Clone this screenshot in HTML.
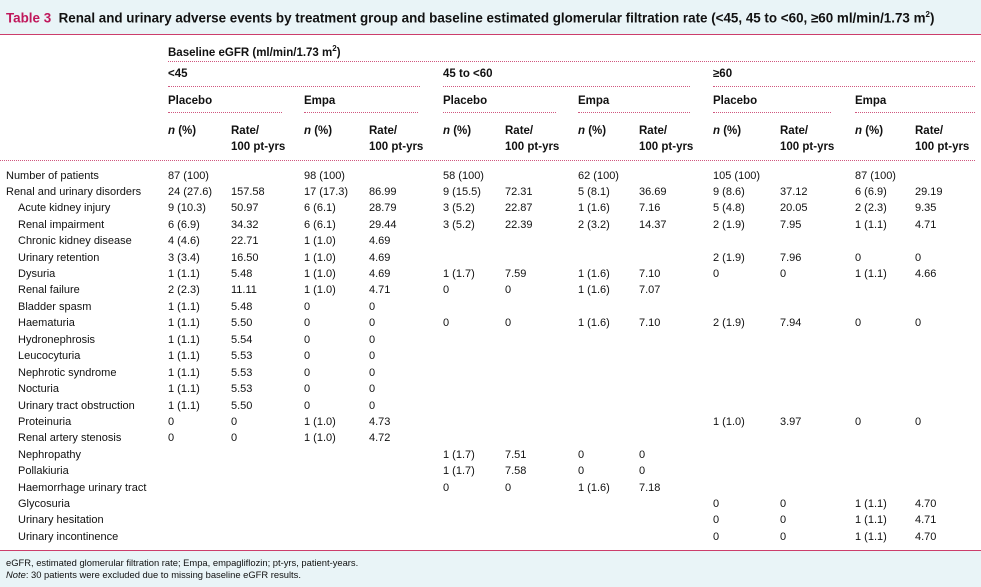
<!DOCTYPE html><html><head><meta charset="utf-8"><style>
body{margin:0;width:981px;height:586px;background:#fff;font-family:"Liberation Sans",sans-serif;font-size:11px;color:#111;position:relative;overflow:hidden}
.a{position:absolute;white-space:nowrap;line-height:14px}
.b{font-weight:bold}
.h{font-size:11.5px}
.d{position:absolute;height:0;border-top:1.3px dotted #d0577f}
.r{position:absolute;left:0;width:981px;height:14px}
.r span{position:absolute;top:0;line-height:14px;white-space:nowrap}
</style></head><body>
<div style="position:absolute;left:0;top:0;width:981px;height:34px;background:#e9f4f7;border-bottom:1.5px solid #cc3d6b"></div>
<div class="a b" style="left:6px;top:8px;font-size:13.4px"><span style="color:#c0175b">Table 3</span>&nbsp; Renal and urinary adverse events by treatment group and baseline estimated glomerular filtration rate (&lt;45, 45 to &lt;60, ≥60 ml/min/1.73 m<sup style="font-size:8px">2</sup>)</div>
<div class="a b h" style="left:168px;top:42px">Baseline eGFR (ml/min/1.73 m<sup style="font-size:8px">2</sup>)</div>
<div class="d" style="left:168px;width:807px;top:61px"></div>
<div class="a b h" style="left:168px;top:67px">&lt;45</div><div class="a b h" style="left:443px;top:67px">45 to &lt;60</div><div class="a b h" style="left:713px;top:67px">≥60</div>
<div class="d" style="left:168px;width:252px;top:86px"></div><div class="d" style="left:443px;width:247px;top:86px"></div><div class="d" style="left:713px;width:262px;top:86px"></div>
<div class="a b h" style="left:168px;top:94px">Placebo</div><div class="a b h" style="left:304px;top:94px">Empa</div><div class="a b h" style="left:443px;top:94px">Placebo</div><div class="a b h" style="left:578px;top:94px">Empa</div><div class="a b h" style="left:713px;top:94px">Placebo</div><div class="a b h" style="left:855px;top:94px">Empa</div>
<div class="d" style="left:168px;width:114px;top:112px"></div><div class="d" style="left:304px;width:114px;top:112px"></div><div class="d" style="left:443px;width:113px;top:112px"></div><div class="d" style="left:578px;width:112px;top:112px"></div><div class="d" style="left:713px;width:118px;top:112px"></div><div class="d" style="left:855px;width:120px;top:112px"></div>
<div class="a b h" style="left:168px;top:124px"><i>n</i> (%)</div><div class="a b h" style="left:231px;top:124px;line-height:16px;top:123px">Rate/<br>100 pt-yrs</div>
<div class="a b h" style="left:304px;top:124px"><i>n</i> (%)</div><div class="a b h" style="left:369px;line-height:16px;top:123px">Rate/<br>100 pt-yrs</div>
<div class="a b h" style="left:443px;top:124px"><i>n</i> (%)</div><div class="a b h" style="left:505px;line-height:16px;top:123px">Rate/<br>100 pt-yrs</div>
<div class="a b h" style="left:578px;top:124px"><i>n</i> (%)</div><div class="a b h" style="left:639px;line-height:16px;top:123px">Rate/<br>100 pt-yrs</div>
<div class="a b h" style="left:713px;top:124px"><i>n</i> (%)</div><div class="a b h" style="left:780px;line-height:16px;top:123px">Rate/<br>100 pt-yrs</div>
<div class="a b h" style="left:855px;top:124px"><i>n</i> (%)</div><div class="a b h" style="left:915px;line-height:16px;top:123px">Rate/<br>100 pt-yrs</div>
<div class="d" style="left:0;width:975px;top:160px"></div>

<div class="r" style="top:169px"><span style="left:6px">Number of patients</span><span style="left:168px">87 (100)</span><span style="left:304px">98 (100)</span><span style="left:443px">58 (100)</span><span style="left:578px">62 (100)</span><span style="left:713px">105 (100)</span><span style="left:855px">87 (100)</span></div>
<div class="r" style="top:185px"><span style="left:6px">Renal and urinary disorders</span><span style="left:168px">24 (27.6)</span><span style="left:231px">157.58</span><span style="left:304px">17 (17.3)</span><span style="left:369px">86.99</span><span style="left:443px">9 (15.5)</span><span style="left:505px">72.31</span><span style="left:578px">5 (8.1)</span><span style="left:639px">36.69</span><span style="left:713px">9 (8.6)</span><span style="left:780px">37.12</span><span style="left:855px">6 (6.9)</span><span style="left:915px">29.19</span></div>
<div class="r" style="top:201px"><span style="left:18px">Acute kidney injury</span><span style="left:168px">9 (10.3)</span><span style="left:231px">50.97</span><span style="left:304px">6 (6.1)</span><span style="left:369px">28.79</span><span style="left:443px">3 (5.2)</span><span style="left:505px">22.87</span><span style="left:578px">1 (1.6)</span><span style="left:639px">7.16</span><span style="left:713px">5 (4.8)</span><span style="left:780px">20.05</span><span style="left:855px">2 (2.3)</span><span style="left:915px">9.35</span></div>
<div class="r" style="top:218px"><span style="left:18px">Renal impairment</span><span style="left:168px">6 (6.9)</span><span style="left:231px">34.32</span><span style="left:304px">6 (6.1)</span><span style="left:369px">29.44</span><span style="left:443px">3 (5.2)</span><span style="left:505px">22.39</span><span style="left:578px">2 (3.2)</span><span style="left:639px">14.37</span><span style="left:713px">2 (1.9)</span><span style="left:780px">7.95</span><span style="left:855px">1 (1.1)</span><span style="left:915px">4.71</span></div>
<div class="r" style="top:234px"><span style="left:18px">Chronic kidney disease</span><span style="left:168px">4 (4.6)</span><span style="left:231px">22.71</span><span style="left:304px">1 (1.0)</span><span style="left:369px">4.69</span></div>
<div class="r" style="top:251px"><span style="left:18px">Urinary retention</span><span style="left:168px">3 (3.4)</span><span style="left:231px">16.50</span><span style="left:304px">1 (1.0)</span><span style="left:369px">4.69</span><span style="left:713px">2 (1.9)</span><span style="left:780px">7.96</span><span style="left:855px">0</span><span style="left:915px">0</span></div>
<div class="r" style="top:267px"><span style="left:18px">Dysuria</span><span style="left:168px">1 (1.1)</span><span style="left:231px">5.48</span><span style="left:304px">1 (1.0)</span><span style="left:369px">4.69</span><span style="left:443px">1 (1.7)</span><span style="left:505px">7.59</span><span style="left:578px">1 (1.6)</span><span style="left:639px">7.10</span><span style="left:713px">0</span><span style="left:780px">0</span><span style="left:855px">1 (1.1)</span><span style="left:915px">4.66</span></div>
<div class="r" style="top:283px"><span style="left:18px">Renal failure</span><span style="left:168px">2 (2.3)</span><span style="left:231px">11.11</span><span style="left:304px">1 (1.0)</span><span style="left:369px">4.71</span><span style="left:443px">0</span><span style="left:505px">0</span><span style="left:578px">1 (1.6)</span><span style="left:639px">7.07</span></div>
<div class="r" style="top:300px"><span style="left:18px">Bladder spasm</span><span style="left:168px">1 (1.1)</span><span style="left:231px">5.48</span><span style="left:304px">0</span><span style="left:369px">0</span></div>
<div class="r" style="top:316px"><span style="left:18px">Haematuria</span><span style="left:168px">1 (1.1)</span><span style="left:231px">5.50</span><span style="left:304px">0</span><span style="left:369px">0</span><span style="left:443px">0</span><span style="left:505px">0</span><span style="left:578px">1 (1.6)</span><span style="left:639px">7.10</span><span style="left:713px">2 (1.9)</span><span style="left:780px">7.94</span><span style="left:855px">0</span><span style="left:915px">0</span></div>
<div class="r" style="top:333px"><span style="left:18px">Hydronephrosis</span><span style="left:168px">1 (1.1)</span><span style="left:231px">5.54</span><span style="left:304px">0</span><span style="left:369px">0</span></div>
<div class="r" style="top:349px"><span style="left:18px">Leucocyturia</span><span style="left:168px">1 (1.1)</span><span style="left:231px">5.53</span><span style="left:304px">0</span><span style="left:369px">0</span></div>
<div class="r" style="top:366px"><span style="left:18px">Nephrotic syndrome</span><span style="left:168px">1 (1.1)</span><span style="left:231px">5.53</span><span style="left:304px">0</span><span style="left:369px">0</span></div>
<div class="r" style="top:382px"><span style="left:18px">Nocturia</span><span style="left:168px">1 (1.1)</span><span style="left:231px">5.53</span><span style="left:304px">0</span><span style="left:369px">0</span></div>
<div class="r" style="top:399px"><span style="left:18px">Urinary tract obstruction</span><span style="left:168px">1 (1.1)</span><span style="left:231px">5.50</span><span style="left:304px">0</span><span style="left:369px">0</span></div>
<div class="r" style="top:415px"><span style="left:18px">Proteinuria</span><span style="left:168px">0</span><span style="left:231px">0</span><span style="left:304px">1 (1.0)</span><span style="left:369px">4.73</span><span style="left:713px">1 (1.0)</span><span style="left:780px">3.97</span><span style="left:855px">0</span><span style="left:915px">0</span></div>
<div class="r" style="top:431px"><span style="left:18px">Renal artery stenosis</span><span style="left:168px">0</span><span style="left:231px">0</span><span style="left:304px">1 (1.0)</span><span style="left:369px">4.72</span></div>
<div class="r" style="top:448px"><span style="left:18px">Nephropathy</span><span style="left:443px">1 (1.7)</span><span style="left:505px">7.51</span><span style="left:578px">0</span><span style="left:639px">0</span></div>
<div class="r" style="top:464px"><span style="left:18px">Pollakiuria</span><span style="left:443px">1 (1.7)</span><span style="left:505px">7.58</span><span style="left:578px">0</span><span style="left:639px">0</span></div>
<div class="r" style="top:481px"><span style="left:18px">Haemorrhage urinary tract</span><span style="left:443px">0</span><span style="left:505px">0</span><span style="left:578px">1 (1.6)</span><span style="left:639px">7.18</span></div>
<div class="r" style="top:497px"><span style="left:18px">Glycosuria</span><span style="left:713px">0</span><span style="left:780px">0</span><span style="left:855px">1 (1.1)</span><span style="left:915px">4.70</span></div>
<div class="r" style="top:513px"><span style="left:18px">Urinary hesitation</span><span style="left:713px">0</span><span style="left:780px">0</span><span style="left:855px">1 (1.1)</span><span style="left:915px">4.71</span></div>
<div class="r" style="top:530px"><span style="left:18px">Urinary incontinence</span><span style="left:713px">0</span><span style="left:780px">0</span><span style="left:855px">1 (1.1)</span><span style="left:915px">4.70</span></div>

<div style="position:absolute;left:0;top:550px;width:981px;height:36px;background:#e9f4f7;border-top:1.5px solid #cc3d6b"></div>
<div class="a" style="left:6px;top:557px;font-size:9.4px;line-height:12px">eGFR, estimated glomerular filtration rate; Empa, empagliflozin; pt-yrs, patient-years.<br><i>Note</i>: 30 patients were excluded due to missing baseline eGFR results.</div>
</body></html>
